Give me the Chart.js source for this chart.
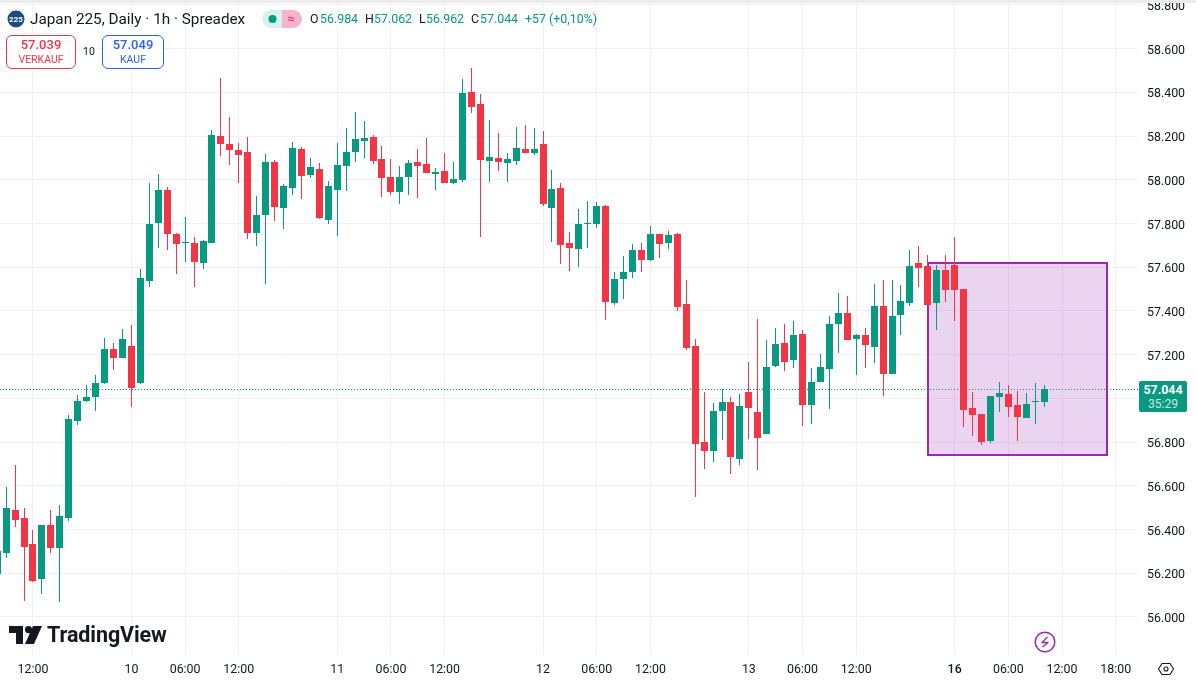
<!DOCTYPE html>
<html>
<head>
    <meta charset="utf-8">
    <title>Japan 225</title>
    <script src="https://cdn.jsdelivr.net/npm/chart.js"></script>
    <style>
        html, body { margin: 0; padding: 0; background: #fff; }
        body { width: 1196px; height: 681px; overflow: hidden; position: relative; font-family: Roboto, sans-serif; color: #131722; }
        #topBand { position: absolute; left: 0; top: 0; width: 1196px; height: 3px; background: #ececec; }
        #chart { position: absolute; left: 0; top: 3px; }
        .lbl { position: absolute; white-space: nowrap; line-height: 16px; }
        .ohlc { top: 11px; font-size: 12.4px; color: #089981; }
        .ohlc.k { color: #131722; }
        .quote { position: absolute; top: 35px; height: 32px; border-radius: 6px; background: #fff; text-align: center; border: 1px solid; }
        .quote b { display: block; font-weight: 500; font-size: 13px; line-height: 16px; margin-top: 1px; }
        .quote span { display: block; font-size: 10.5px; line-height: 13px; }
        #priceTag { position: absolute; left: 1139px; top: 381px; width: 48px; height: 31px; background: #089981; color: #fff; border-radius: 2px; text-align: center; }
        #priceTag b { display: block; font-size: 12.4px; font-weight: 700; line-height: 15px; margin-top: 1px; }
        #priceTag span { display: block; font-size: 12px; line-height: 14px; color: #c6e8e0; }
        svg { position: absolute; }
    </style>
</head>
<body>
<canvas id="chart" width="1196" height="678"></canvas>
<div id="topBand"></div>

<!-- header -->
<svg style="left:7px;top:10px" width="18" height="18"><circle cx="9" cy="9" r="8.5" fill="#1c4b7e"/><text x="9" y="12" text-anchor="middle" font-family="Roboto" font-size="8" font-weight="700" fill="#fff">225</text></svg>
<div class="lbl" style="left:30px;top:11px;font-size:15.3px">Japan 225, Daily · 1h · Spreadex</div>
<svg style="left:262px;top:10px" width="40" height="18">
    <path d="M9 0H20V18H9A9 9 0 0 1 9 0Z" fill="#d8f2ec"/>
    <path d="M20 0H31A9 9 0 0 1 31 18H20Z" fill="#f7b3cb"/>
    <circle cx="10.5" cy="9" r="4" fill="#089981"/>
    <text x="29" y="13" text-anchor="middle" font-family="Roboto" font-size="13" fill="#e91e63">≈</text>
</svg>
<div class="lbl ohlc k" style="left:310px">O</div><div class="lbl ohlc" style="left:320px">56.984</div>
<div class="lbl ohlc k" style="left:365px">H</div><div class="lbl ohlc" style="left:374px">57.062</div>
<div class="lbl ohlc k" style="left:419px">L</div><div class="lbl ohlc" style="left:426px">56.962</div>
<div class="lbl ohlc k" style="left:471px">C</div><div class="lbl ohlc" style="left:480px">57.044</div>
<div class="lbl ohlc" style="left:525px">+57 (+0,10%)</div>

<div class="quote" style="left:6px;width:68px;border-color:#f23645;color:#f23645"><b>57.039</b><span>VERKAUF</span></div>
<div class="lbl" style="left:83px;top:44px;font-size:10.5px">10</div>
<div class="quote" style="left:102px;width:60px;border-color:#2962ff;color:#2962ff"><b>57.049</b><span>KAUF</span></div>

<!-- last price label on the axis -->
<div id="priceTag"><b>57.044</b><span>35:29</span></div>

<!-- logo -->
<svg style="left:9px;top:626px" width="34" height="18" viewBox="0 0 34 18">
    <path d="M0 0H14V18H7V7H0Z" fill="#131722"/>
    <circle cx="19.5" cy="3.6" r="3.6" fill="#131722"/>
    <path d="M24 0H33L25 18H16Z" fill="#131722"/>
</svg>
<div class="lbl" style="left:47px;top:624px;font-size:21.5px;line-height:22px;font-weight:700;letter-spacing:-0.1px;color:#131722">TradingView</div>

<!-- lightning button -->
<svg style="left:1034px;top:631px" width="22" height="22">
    <circle cx="11" cy="11" r="9.8" fill="#fff" stroke="#9c27b0" stroke-width="1.5"/>
    <path d="M13.5 6L8 11.5H14L8.5 16" fill="none" stroke="#9c27b0" stroke-width="1.3" stroke-linejoin="round"/>
</svg>

<!-- settings button -->
<svg style="left:1157px;top:661px" width="18" height="16" viewBox="0 0 18 16">
    <path d="M1.5 8L5 2.5H13L16.5 8L13 13.5H5Z" fill="none" stroke="#131722" stroke-width="1.1"/>
    <circle cx="9" cy="8" r="2" fill="none" stroke="#131722" stroke-width="1.1"/>
</svg>

<script>
    // hourly candles
    const opens = [56197,56293,56490,56453,56334,56174,56421,56316,56453,56897,56988,57007,57071,57226,57185,57240,57071,57537,57803,57954,
        57752,57711,57711,57620,57711,58201,58164,58137,58127,57757,57839,58082,57871,57963,58141,58022,58050,57816,57954,58063,
        58127,58178,58196,58095,58013,57944,58013,58082,58072,58027,58040,57986,57999,58402,58347,58086,58100,58077,58086,58141,
        58123,58164,57871,57963,57711,57684,57798,57798,57880,57437,57546,57578,57679,57633,57752,57711,57752,57432,57240,56801,
        56759,56942,56984,56723,57029,56938,56837,57148,57254,57176,57295,56970,57075,57135,57340,57391,57272,57290,57235,57423,
        57112,57382,57437,57620,57606,57437,57588,57610,57501,56956,56929,56805,57007,57020,56970,56910,56984,56984];
    const highs = [56339,56595,56695,56499,56398,56421,56490,56512,56924,57016,57061,57107,57276,57254,57318,57336,57592,57986,58027,57967,
        57757,57830,57739,57725,58228,58466,58288,58169,58196,57926,58118,58091,57981,58173,58150,58100,58077,57995,58169,58237,
        58310,58269,58205,58155,58095,58063,58091,58141,58191,58054,58123,58082,58461,58512,58393,58274,58214,58123,58242,58251,
        58237,58223,58045,57986,57761,57867,57903,57899,57885,57578,57652,57706,57711,57789,57752,57766,57757,57542,57272,57029,
        56979,57043,57007,57020,57167,57363,57267,57322,57340,57354,57313,57139,57203,57377,57482,57469,57295,57322,57523,57542,
        57542,57519,57679,57697,57656,57610,57656,57739,57501,57029,56929,57011,57075,57061,57034,57025,57071,57062];
    const lows = [56197,56270,56412,56073,56160,56105,56293,56069,56439,56878,56984,56942,57066,57130,57185,56961,57066,57510,57688,57679,
        57569,57624,57510,57592,57711,58109,58068,57986,57729,57697,57523,57812,57775,57931,57912,58008,57821,57798,57743,57949,
        58082,58100,58072,57922,57931,57889,57931,57917,58031,57954,57986,57981,57990,58306,57739,57990,58040,57990,58068,58123,
        58114,57880,57716,57615,57583,57601,57688,57780,57359,57427,57455,57551,57578,57629,57642,57684,57400,57222,56549,56677,
        56709,56810,56654,56695,56814,56673,56837,57144,57125,57139,56874,56883,57075,56952,57208,57267,57107,57139,57162,57011,
        57112,57290,57423,57510,57427,57313,57441,57354,56869,56828,56787,56796,56938,56915,56805,56910,56883,56962];
    const closes = [56302,56499,56444,56320,56165,56421,56316,56462,56906,56988,57007,57071,57226,57185,57272,57048,57551,57798,57954,57752,
        57706,57716,57624,57720,58205,58164,58137,58114,57757,57839,58082,57876,57972,58146,58018,58059,57825,57972,58068,58127,
        58187,58191,58086,58008,57944,58013,58077,58063,58031,58036,57986,58004,58397,58333,58091,58105,58082,58095,58146,58123,
        58141,57889,57958,57702,57688,57798,57803,57880,57441,57546,57578,57679,57633,57752,57706,57748,57418,57231,56791,56759,
        56942,56984,56732,56965,56956,56819,57144,57249,57167,57290,56970,57075,57144,57340,57391,57267,57290,57244,57423,57112,
        57377,57446,57606,57597,57427,57588,57496,57496,56947,56924,56801,57011,57025,56961,56915,56974,56988,57044];

    const lastPrice = 57044;

    // axis ticks
    const yTickValues = [58800,58600,58400,58200,58000,57800,57600,57400,57200,57000,56800,56600,56400,56200,56000];
    const xTickIndex = [4,15,21,27,38,44,50,61,67,73,84,90,96,107,113,119,125];
    const xTickLabels = ['12:00','10','06:00','12:00','11','06:00','12:00','12','06:00','12:00','13','06:00','12:00','16','06:00','12:00','18:00'];

    // purple rectangle drawn on the chart
    const boxFrom = 104, boxTo = 124, boxHigh = 57620, boxLow = 56741;

    const GREEN = '#089981', RED = '#f23645', GRID = '#f1f1f4';
    const fontFamily = 'Roboto, sans-serif';
    const candleColor = ctx => closes[ctx.dataIndex] >= opens[ctx.dataIndex] ? GREEN : RED;

    // put the candles and the price line on whole pixels so they stay crisp
    const snapPlugin = {
        id: 'snap',
        afterDatasetsUpdate(chart) {
            chart.getSortedVisibleDatasetMetas().forEach(meta => {
                meta.data.forEach(el => {
                    if (meta.type === 'bar') {
                        el.x = Math.floor(el.x) + 0.5;
                        el.y = Math.round(el.y);
                        el.base = Math.round(el.base);
                        if (el.y === el.base) el.base = el.y + 1;
                    } else {
                        el.x = Math.floor(el.x);
                        el.y = Math.round(el.y) + 0.5;
                    }
                });
            });
        }
    };

    const boxPlugin = {
        id: 'rangeBox',
        beforeDatasetsDraw(chart) {
            const { ctx, scales: { x, y } } = chart;
            const left = Math.round(x.getPixelForValue(boxFrom));
            const right = Math.round(x.getPixelForValue(boxTo));
            const top = Math.round(y.getPixelForValue(boxHigh));
            const bottom = Math.round(y.getPixelForValue(boxLow));
            ctx.save();
            ctx.fillStyle = 'rgba(156,39,176,0.2)';
            ctx.fillRect(left, top, right - left, bottom - top);
            ctx.strokeStyle = '#9c27b0';
            ctx.lineWidth = 2;
            ctx.strokeRect(left, top, right - left, bottom - top);
            ctx.restore();
        }
    };

    new Chart(document.getElementById('chart'), {
        type: 'bar',
        plugins: [snapPlugin, boxPlugin],
        data: {
            datasets: [
                {
                    label: 'body',
                    data: opens.map((o, i) => ({ x: i, y: [o, closes[i]] })),
                    backgroundColor: candleColor,
                    barThickness: 7,
                    inflateAmount: 0,
                    grouped: false,
                    order: 1
                },
                {
                    label: 'wick',
                    data: lows.map((l, i) => ({ x: i, y: [l, highs[i]] })),
                    backgroundColor: candleColor,
                    barThickness: 1,
                    inflateAmount: 0,
                    grouped: false,
                    order: 2
                },
                {
                    type: 'line',
                    label: 'last',
                    data: [{ x: 0, y: lastPrice }, { x: 128, y: lastPrice }],
                    borderColor: GREEN,
                    borderWidth: 1,
                    borderDash: [1, 2],
                    pointRadius: 0,
                    order: 3
                }
            ]
        },
        options: {
            responsive: false,
            animation: false,
            events: [],
            layout: { padding: 0 },
            plugins: { legend: { display: false }, tooltip: { enabled: false } },
            scales: {
                x: {
                    type: 'linear',
                    offset: false,
                    min: 0.313,
                    max: 127.49,
                    afterBuildTicks: scale => { scale.ticks = xTickIndex.map(v => ({ value: v })); },
                    afterFit: scale => { scale.height = 26; scale.paddingLeft = 0; scale.paddingRight = 0; },
                    grid: { color: GRID, drawTicks: false, offset: false },
                    border: { display: false },
                    ticks: {
                        autoSkip: false,
                        maxRotation: 0,
                        padding: 7,
                        color: '#131722',
                        font: ctx => ({ family: fontFamily, size: 12.4, weight: ctx.tick && ctx.tick.value === 107 ? '500' : '400' }),
                        callback: v => xTickLabels[xTickIndex.indexOf(v)]
                    }
                },
                y: {
                    position: 'right',
                    min: 55826,
                    max: 58809,
                    afterBuildTicks: scale => { scale.ticks = yTickValues.map(v => ({ value: v })); },
                    afterFit: scale => { scale.width = 58; scale.paddingTop = 0; scale.paddingBottom = 0; },
                    grid: { color: GRID, drawTicks: false },
                    border: { display: false },
                    ticks: {
                        padding: 9,
                        labelOffset: 2,
                        color: '#131722',
                        font: { family: fontFamily, size: 12.4 },
                        callback: v => (v / 1000).toFixed(3)
                    }
                }
            }
        }
    });
</script>
</body>
</html>
